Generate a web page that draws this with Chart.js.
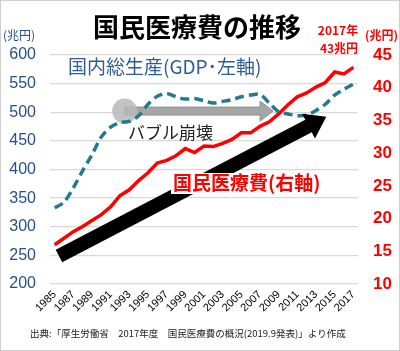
<!DOCTYPE html>
<html><head><meta charset="utf-8">
<script src="https://cdn.jsdelivr.net/npm/chart.js@4/dist/chart.umd.min.js"></script>
<style>html,body{margin:0;padding:0;background:#fff;}canvas{display:block;}</style>
</head><body>
<canvas id="c" width="400" height="351"></canvas>
<script>
// ---- data ----
const years = ['1985','1986','1987','1988','1989','1990','1991','1992','1993','1994','1995','1996','1997','1998','1999','2000','2001','2002','2003','2004','2005','2006','2007','2008','2009','2010','2011','2012','2013','2014','2015','2016','2017'];
// 国内総生産 (兆円, 左軸)
const gdp = [333,343,368,398,426,457,474,482,484,494,514,528,533,527,523,524,520,516,519,522,527,530,531,516,501,497,494,495,503,514,530,540,549];
// 国民医療費 (兆円, 右軸)
const medicalCost = [16.0,17.0,18.0,18.8,19.7,20.6,21.8,23.5,24.4,25.8,27.0,28.5,28.9,29.6,30.7,30.1,31.1,31.0,31.5,32.1,33.1,33.1,34.1,34.8,36.0,37.4,38.6,39.2,40.1,40.8,42.4,42.1,43.1];
const leftAxisTicks = [200,250,300,350,400,450,500,550,600];
const rightAxisTicks = [10,15,20,25,30,35,40,45];

// annotation anchors in data space (category index, left-axis value)
const bubbleMarker = {from: 7.5, to: 23.4, value: 502};
const trendArrow = {fromX: 0.46, fromY: 249, toX: 29.1, toY: 492};

const JP = "'Noto Sans CJK JP', sans-serif";
const NUM = "'Liberation Sans', Arial, sans-serif";
const BLUE = '#24508c';
const RED = '#ff0000';

function px(chart, i, v) {
  return [chart.scales.x.getPixelForValue(i), chart.scales.yL.getPixelForValue(v)];
}

const annot = {
  id: 'annot',
  beforeDatasetsDraw(chart) {
    const ctx = chart.ctx;
    const [x0, y0] = px(chart, bubbleMarker.from, bubbleMarker.value);
    const [x1] = px(chart, bubbleMarker.to, bubbleMarker.value);
    ctx.save();
    ctx.fillStyle = '#a6a6a6';
    ctx.strokeStyle = '#8f8f8f';
    ctx.lineWidth = 1;
    ctx.beginPath();
    ctx.moveTo(x0, y0 - 4);
    ctx.lineTo(x1 - 13, y0 - 4);
    ctx.lineTo(x1 - 13, y0 - 10);
    ctx.lineTo(x1, y0);
    ctx.lineTo(x1 - 13, y0 + 10);
    ctx.lineTo(x1 - 13, y0 + 4);
    ctx.lineTo(x0, y0 + 4);
    ctx.closePath();
    ctx.fill();
    ctx.stroke();
    ctx.beginPath();
    ctx.arc(x0, y0, 12.5, 0, Math.PI * 2);
    ctx.fillStyle = 'rgba(185,185,185,0.85)';
    ctx.fill();
    ctx.restore();
  },
  afterDatasetsDraw(chart) {
    const ctx = chart.ctx;
    const [sx, sy] = px(chart, trendArrow.fromX, trendArrow.fromY);
    const [tx, ty] = px(chart, trendArrow.toX, trendArrow.toY);
    const ang = Math.atan2(ty - sy, tx - sx);
    const len = Math.hypot(tx - sx, ty - sy);
    ctx.save();
    ctx.translate(sx, sy);
    ctx.rotate(ang);
    ctx.fillStyle = '#000';
    ctx.beginPath();
    ctx.moveTo(0, -7);
    ctx.lineTo(len - 20, -7);
    ctx.lineTo(len - 20, -14);
    ctx.lineTo(len, 0);
    ctx.lineTo(len - 20, 14);
    ctx.lineTo(len - 20, 7);
    ctx.lineTo(0, 7);
    ctx.closePath();
    ctx.fill();
    ctx.restore();

    // label boxes and texts inside plot
    ctx.save();
    ctx.textBaseline = 'middle';
    ctx.textAlign = 'left';
    ctx.font = 'bold 19px ' + JP;
    const lab = '国民医療費(右軸)';
    const w = ctx.measureText(lab).width;
    ctx.fillStyle = '#fff';
    ctx.fillRect(171, 173, w + 4, 21);
    ctx.fillStyle = RED;
    ctx.fillText(lab, 173, 183);

    ctx.font = '19px ' + JP;
    ctx.fillStyle = '#2e5c96';
    ctx.fillText('国内総生産(GDP･左軸)', 68, 67);

    ctx.font = '17px ' + JP;
    ctx.fillStyle = '#222';
    ctx.fillText('バブル崩壊', 128, 133);
    ctx.restore();
  },
  afterDraw(chart) {
    const ctx = chart.ctx;
    ctx.save();
    ctx.textBaseline = 'middle';
    ctx.textAlign = 'center';
    ctx.fillStyle = '#000';
    ctx.font = 'bold 26px ' + JP;
    ctx.fillText('国民医療費の推移', 197, 27);

    ctx.font = 'bold 12px ' + JP;
    ctx.fillStyle = RED;
    ctx.fillText('2017年', 338, 30);
    ctx.fillText('43兆円', 339, 48);
    ctx.textAlign = 'left';
    ctx.fillText('(兆円)', 365, 35);

    ctx.font = '12px ' + JP;
    ctx.fillStyle = BLUE;
    ctx.fillText('(兆円)', 3, 35);

    ctx.font = '9.5px ' + JP;
    ctx.fillStyle = '#222';
    ctx.fillText('出典:「厚生労働省　2017年度　国民医療費の概況(2019.9発表)」より作成', 30, 333);

    ctx.strokeStyle = '#cfcfcf';
    ctx.lineWidth = 1;
    ctx.strokeRect(0.5, 0.5, 399, 350);
    ctx.restore();
  }
};

new Chart(document.getElementById('c').getContext('2d'), {
  type: 'line',
  data: {
    labels: years,
    datasets: [
      {label: '国内総生産', data: gdp, yAxisID: 'yL', borderColor: '#237a90', borderWidth: 3.5,
       borderDash: [9, 5], pointRadius: 0, tension: 0.3, fill: false},
      {label: '国民医療費', data: medicalCost, yAxisID: 'yR', borderColor: RED, borderWidth: 3.5,
       pointRadius: 0, tension: 0, fill: false}
    ]
  },
  options: {
    responsive: false, animation: false, events: [],
    layout: {padding: {top: 55, left: 0, right: 0, bottom: 0}},
    plugins: {legend: {display: false}, tooltip: {enabled: false}, title: {display: false}},
    scales: {
      x: {
        offset: true,
        grid: {display: false, drawTicks: false},
        border: {display: false},
        ticks: {
          autoSkip: false, maxRotation: 45, minRotation: 45, padding: 4, color: '#000',
          font: {family: NUM, size: 11},
          callback: function (v, i) { return i % 2 === 0 ? this.getLabelForValue(v) : ''; }
        },
        afterFit(a) { a.height = 67; }
      },
      yL: {
        position: 'left', min: leftAxisTicks[0], max: leftAxisTicks[leftAxisTicks.length - 1],
        afterBuildTicks(a) { a.ticks = leftAxisTicks.map(v => ({value: v})); },
        ticks: {color: BLUE, padding: 14, font: {family: NUM, size: 16}},
        grid: {color: '#d9d9d9', lineWidth: 1.3, drawTicks: false},
        border: {display: false},
        afterFit(a) { a.width = 50; }
      },
      yR: {
        position: 'right', min: rightAxisTicks[0], max: rightAxisTicks[rightAxisTicks.length - 1],
        afterBuildTicks(a) { a.ticks = rightAxisTicks.map(v => ({value: v})); },
        ticks: {color: RED, padding: 15, font: {family: NUM, size: 17, weight: 'bold'}},
        grid: {display: false, drawTicks: false},
        border: {display: false},
        afterFit(a) { a.width = 42; }
      }
    }
  },
  plugins: [annot]
});
</script>
</body></html>
